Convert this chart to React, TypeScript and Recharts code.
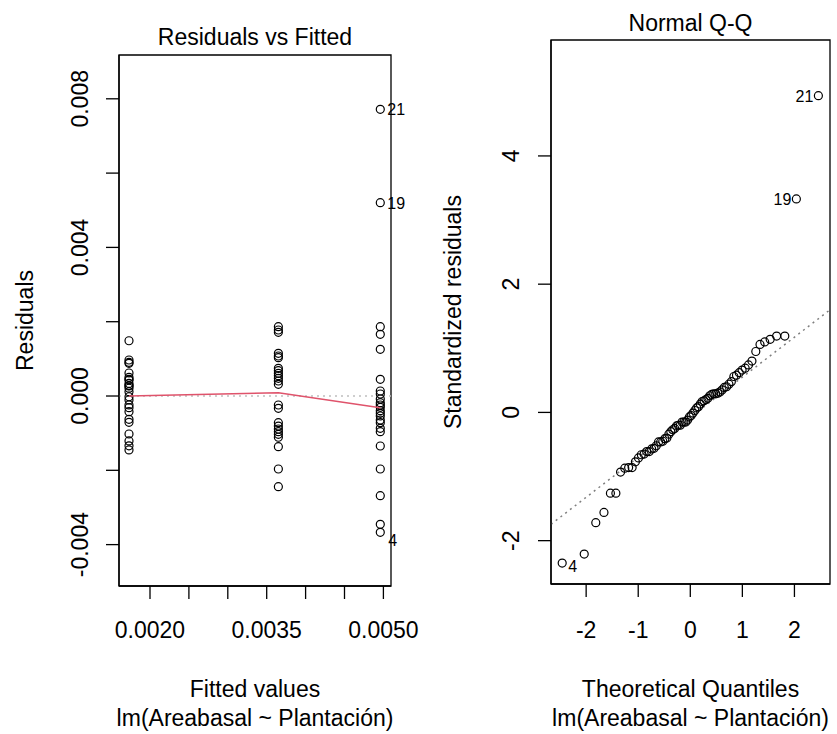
import React from 'react';
import { ScatterChart, Scatter, XAxis, YAxis, ReferenceLine, ReferenceArea } from 'recharts';

// residuals vs fitted: three fitted levels (one per Plantación)
const fittedLevels = [0.00173, 0.00365, 0.00496];
const residGroup1 = [0.001488, 0.000969, 0.000907, 0.00088, 0.00062, 0.000503, 0.00045, 0.00043, 0.00034, 0.00028, 0.00027, 0.00021, 0.000117, -0.00002, -0.000108, -0.00024, -0.000314, -0.000422, -0.000628, -0.000709, -0.001023, -0.00121, -0.00134, -0.00145];
const residGroup2 = [0.001866, 0.001777, 0.001714, 0.00115, 0.001077, 0.001031, 0.000745, 0.000682, 0.00061, 0.000547, 0.000476, 0.000404, 0.000314, -0.000242, -0.000332, -0.000718, -0.000808, -0.000888, -0.00096, -0.00103, -0.00111, -0.001364, -0.001965, -0.00244];
const residGroup3 = [0.001866, 0.00166, 0.001257, 0.00045, 0.000135, 0.000054, -0.00008, -0.00018, -0.000242, -0.000305, -0.000395, -0.000467, -0.000538, -0.000646, -0.000718, -0.00087, -0.00096, -0.001346, -0.001965, -0.002683, -0.003454];
const outlierIds = ['21', '19', '4'];
const outlierResid = [0.007717, 0.005204, -0.00367];
const smoothX = [0.00173, 0.00365, 0.00496];
const smoothY = [0, 0.00009, -0.000315];

const fittedTicks = [0.002, 0.0025, 0.003, 0.0035, 0.004, 0.0045, 0.005];
const fittedTickLabels = ['0.0020', '', '', '0.0035', '', '', '0.0050'];
const residTicks = [-0.004, -0.002, 0, 0.002, 0.004, 0.006, 0.008];
const residTickLabels = ['-0.004', '', '0.000', '', '0.004', '', '0.008'];

// normal Q-Q
const theoQuantiles = [-2.46, -2.037, -1.815, -1.658, -1.534, -1.429, -1.339, -1.258, -1.184, -1.117, -1.054, -0.995, -0.94, -0.887, -0.837, -0.788, -0.742, -0.697, -0.653, -0.61, -0.569, -0.528, -0.489, -0.45, -0.412, -0.374, -0.337, -0.3, -0.264, -0.228, -0.192, -0.157, -0.122, -0.087, -0.052, -0.017, 0.017, 0.052, 0.087, 0.122, 0.157, 0.192, 0.228, 0.264, 0.3, 0.337, 0.374, 0.412, 0.45, 0.489, 0.528, 0.569, 0.61, 0.653, 0.697, 0.742, 0.788, 0.837, 0.887, 0.94, 0.995, 1.054, 1.117, 1.184, 1.258, 1.339, 1.429, 1.534, 1.658, 1.815, 2.037, 2.46];
const stdResiduals = [-2.35, -2.21, -1.72, -1.56, -1.26, -1.26, -0.93, -0.87, -0.86, -0.86, -0.77, -0.71, -0.66, -0.65, -0.61, -0.61, -0.57, -0.56, -0.52, -0.46, -0.46, -0.45, -0.41, -0.4, -0.34, -0.3, -0.27, -0.25, -0.21, -0.2, -0.2, -0.15, -0.15, -0.15, -0.12, -0.07, -0.05, -0.01, 0.03, 0.07, 0.09, 0.13, 0.17, 0.18, 0.2, 0.22, 0.26, 0.28, 0.29, 0.29, 0.3, 0.32, 0.35, 0.39, 0.4, 0.44, 0.48, 0.56, 0.58, 0.62, 0.66, 0.69, 0.74, 0.8, 0.95, 1.06, 1.1, 1.14, 1.19, 1.19, 3.33, 4.94];
const qqLabelRank = [0, 70, 71];
const qqLabelText = ['4', '19', '21'];
const qqLineX = [-2.675, 2.683];
const qqLineY = [-1.745, 1.6];
const qqXTicks = [-2, -1, 0, 1, 2];
const qqYTicks = [-2, 0, 2, 4];

const FONT = '"Liberation Sans", Arial, Helvetica, sans-serif';
const W = 837;
const H = 734;

const pointsLeft = [
  ...residGroup1.map((r) => ({ x: fittedLevels[0], y: r })),
  ...residGroup2.map((r) => ({ x: fittedLevels[1], y: r })),
  ...residGroup3.map((r) => ({ x: fittedLevels[2], y: r })),
  ...outlierResid.map((r, i) => ({ x: fittedLevels[2], y: r, id: outlierIds[i] })),
];
const smoothData = smoothX.map((x, i) => ({ x, y: smoothY[i] }));
const qqData = theoQuantiles.map((x, i) => {
  const k = qqLabelRank.indexOf(i);
  return { x, y: stdResiduals[i], id: k >= 0 ? qqLabelText[k] : undefined };
});

function labelFor(value: number, ticks: number[], labels: string[]) {
  let best = 0;
  ticks.forEach((t, i) => {
    if (Math.abs(t - value) < Math.abs(ticks[best] - value)) best = i;
  });
  return labels[best];
}

const xTick = (ticks: number[], labels: string[]) => (props: any) => {
  const label = labelFor(props.payload.value, ticks, labels);
  if (!label) return <g />;
  return (
    <text x={props.x} y={638} textAnchor="middle" fontSize={23} fontFamily={FONT} fill="#000">
      {label}
    </text>
  );
};

const yTick = (baseX: number, ticks: number[], labels: string[]) => (props: any) => {
  const label = labelFor(props.payload.value, ticks, labels);
  if (!label) return <g />;
  return (
    <text
      x={baseX}
      y={props.y}
      transform={`rotate(-90 ${baseX} ${props.y})`}
      textAnchor="middle"
      fontSize={23}
      fontFamily={FONT}
      fill="#000"
    >
      {label}
    </text>
  );
};

const leftDot = (p: any) => {
  const id = p.payload && p.payload.id;
  return (
    <g>
      <circle cx={p.cx} cy={p.cy} r={4} fill="none" stroke="#000" strokeWidth={1.2} />
      {id && (
        <text x={p.cx + (id === '4' ? 8 : 7)} y={p.cy + (id === '4' ? 14 : 6)} fontSize={16} fontFamily={FONT} fill="#000">
          {id}
        </text>
      )}
    </g>
  );
};

const qqDot = (p: any) => {
  const id = p.payload && p.payload.id;
  const right = p.payload && p.payload.x > 0;
  return (
    <g>
      <circle cx={p.cx} cy={p.cy} r={4} fill="none" stroke="#000" strokeWidth={1.2} />
      {id && (
        <text
          x={right ? p.cx - 5 : p.cx + 6}
          y={p.cy + (right ? 6 : 9)}
          textAnchor={right ? 'end' : 'start'}
          fontSize={16}
          fontFamily={FONT}
          fill="#000"
        >
          {id}
        </text>
      )}
    </g>
  );
};

const noDot = () => <g />;

const axisCommon = {
  tickSize: 13,
  tickMargin: 0,
  interval: 0 as const,
  axisLine: { stroke: '#000', strokeWidth: 1.3 },
  tickLine: { stroke: '#000', strokeWidth: 1.3 },
};

export default function App() {
  const xDomL: [number, number] = [0.0016015, 0.0050977];
  const yDomL: [number, number] = [-0.005114, 0.009179];
  const xDomR: [number, number] = [-2.675, 2.683];
  const yDomR: [number, number] = [-2.676, 5.808];

  return (
    <div style={{ position: 'absolute', left: 0, top: 0, width: W, height: H, background: '#fff' }}>
      <div style={{ position: 'absolute', left: 0, top: 0 }}>
        <ScatterChart width={W} height={H} margin={{ top: 55, left: 118, right: W - 391, bottom: H - 586 - 1 }}>
          <XAxis
            type="number"
            dataKey="x"
            domain={xDomL}
            ticks={fittedTicks}
            height={1}
            tick={xTick(fittedTicks, fittedTickLabels)}
            {...axisCommon}
          />
          <YAxis
            type="number"
            dataKey="y"
            domain={yDomL}
            ticks={residTicks}
            width={1}
            tick={yTick(88, residTicks, residTickLabels)}
            {...axisCommon}
          />
          <ReferenceArea x1={xDomL[0]} x2={xDomL[1]} y1={yDomL[0]} y2={yDomL[1]} fill="none" stroke="#000" strokeWidth={1.3} />
          <ReferenceLine y={0} stroke="#BEBEBE" strokeWidth={1.5} strokeDasharray="2 4" />
          <Scatter data={pointsLeft} shape={leftDot} isAnimationActive={false} />
          <Scatter data={smoothData} shape={noDot} line={{ stroke: '#DF536B', strokeWidth: 1.5 }} isAnimationActive={false} />
        </ScatterChart>
      </div>
      <div style={{ position: 'absolute', left: 0, top: 0 }}>
        <ScatterChart width={W} height={H} margin={{ top: 40, left: 550, right: W - 830, bottom: H - 584 - 1 }}>
          <XAxis
            type="number"
            dataKey="x"
            domain={xDomR}
            ticks={qqXTicks}
            height={1}
            tick={xTick(qqXTicks, qqXTicks.map(String))}
            {...axisCommon}
          />
          <YAxis
            type="number"
            dataKey="y"
            domain={yDomR}
            ticks={qqYTicks}
            width={1}
            tick={yTick(519, qqYTicks, qqYTicks.map(String))}
            {...axisCommon}
          />
          <ReferenceArea x1={xDomR[0]} x2={xDomR[1]} y1={yDomR[0]} y2={yDomR[1]} fill="none" stroke="#000" strokeWidth={1.3} />
          <ReferenceLine
            segment={[
              { x: qqLineX[0], y: qqLineY[0] },
              { x: qqLineX[1], y: qqLineY[1] },
            ]}
            stroke="#7F7F7F"
            strokeWidth={1.5}
            strokeDasharray="2 4"
          />
          <Scatter data={qqData} shape={qqDot} isAnimationActive={false} />
        </ScatterChart>
      </div>
      <svg width={W} height={H} style={{ position: 'absolute', left: 0, top: 0, pointerEvents: 'none' }} fontFamily={FONT} fontSize={23} fill="#000">
        <text x={255} y={45} textAnchor="middle">Residuals vs Fitted</text>
        <text x={690.5} y={31} textAnchor="middle">Normal Q-Q</text>
        <text x={33} y={320.5} textAnchor="middle" transform="rotate(-90 33 320.5)">Residuals</text>
        <text x={461} y={312} textAnchor="middle" transform="rotate(-90 461 312)">Standardized residuals</text>
        <text x={255} y={697} textAnchor="middle">Fitted values</text>
        <text x={255} y={726} textAnchor="middle">lm(Areabasal ~ Plantación)</text>
        <text x={690.5} y={697} textAnchor="middle">Theoretical Quantiles</text>
        <text x={690.5} y={726} textAnchor="middle">lm(Areabasal ~ Plantación)</text>
      </svg>
    </div>
  );
}
